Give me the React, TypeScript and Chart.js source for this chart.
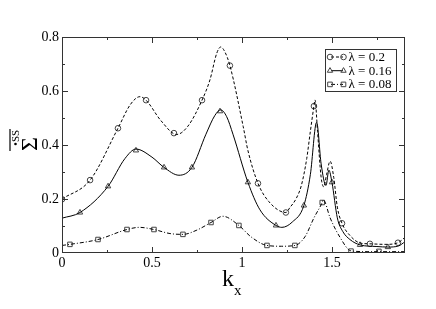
import React, { useEffect, useRef } from "react";
import { Chart, registerables } from "chart.js";

Chart.register(...registerables);

// ---- data ----
const xTickValues = [0, 0.5, 1, 1.5];
const yTickValues = [0, 0.2, 0.4, 0.6, 0.8];
const legendLabels = ["λ = 0.2", "λ = 0.16", "λ = 0.08"];

// λ = 0.2 curve
const kxA = [0, 0.156, 0.311, 0.38, 0.433, 0.467, 0.55, 0.637, 0.7, 0.778, 0.822, 0.86, 0.882, 0.905, 0.933, 1.007, 1.033, 1.089, 1.15, 1.244, 1.267, 1.3, 1.33, 1.36, 1.38, 1.4, 1.406, 1.42, 1.44, 1.455, 1.47, 1.49, 1.51, 1.53, 1.556, 1.6, 1.656, 1.711, 1.8, 1.867, 1.906];
const yA = [0.2, 0.27, 0.462, 0.55, 0.579, 0.566, 0.49, 0.439, 0.47, 0.566, 0.641, 0.74, 0.763, 0.745, 0.694, 0.468, 0.38, 0.258, 0.19, 0.15, 0.169, 0.2, 0.25, 0.35, 0.45, 0.544, 0.567, 0.45, 0.28, 0.245, 0.29, 0.34, 0.28, 0.17, 0.11, 0.065, 0.037, 0.034, 0.032, 0.038, 0.058];
const kxAm = [0, 0.156, 0.311, 0.467, 0.622, 0.778, 0.933, 1.089, 1.244, 1.4, 1.556, 1.711, 1.867];
const yAm = [0.199, 0.27, 0.462, 0.566, 0.444, 0.566, 0.694, 0.258, 0.15, 0.544, 0.11, 0.034, 0.038];

// λ = 0.16 curve
const kxB = [0, 0.1, 0.256, 0.35, 0.411, 0.5, 0.567, 0.65, 0.722, 0.8, 0.85, 0.882, 0.915, 0.95, 1.033, 1.1, 1.189, 1.222, 1.28, 1.344, 1.38, 1.415, 1.44, 1.467, 1.483, 1.5, 1.53, 1.56, 1.6, 1.656, 1.75, 1.811, 1.87, 1.906];
const yB = [0.129, 0.15, 0.247, 0.35, 0.385, 0.355, 0.317, 0.288, 0.317, 0.44, 0.51, 0.53, 0.505, 0.44, 0.262, 0.16, 0.102, 0.095, 0.115, 0.176, 0.29, 0.484, 0.33, 0.25, 0.307, 0.262, 0.13, 0.08, 0.05, 0.03, 0.024, 0.022, 0.026, 0.042];
const kxBm = [0.1, 0.256, 0.411, 0.567, 0.722, 0.878, 1.033, 1.189, 1.344, 1.5, 1.656, 1.811];
const yBm = [0.15, 0.247, 0.38, 0.317, 0.317, 0.525, 0.262, 0.102, 0.176, 0.262, 0.03, 0.022];

// λ = 0.08 curve
const kxC = [0, 0.044, 0.2, 0.361, 0.43, 0.511, 0.6, 0.672, 0.75, 0.828, 0.894, 0.983, 1.05, 1.139, 1.22, 1.294, 1.35, 1.4, 1.446, 1.452, 1.49, 1.544, 1.606, 1.7, 1.761, 1.906];
const yC = [0.028, 0.032, 0.05, 0.087, 0.095, 0.087, 0.072, 0.069, 0.085, 0.113, 0.136, 0.102, 0.06, 0.028, 0.025, 0.028, 0.06, 0.13, 0.187, 0.197, 0.13, 0.059, 0.008, 0.005, 0.005, 0.005];
const kxCm = [0.044, 0.2, 0.361, 0.511, 0.672, 0.828, 0.983, 1.139, 1.294, 1.446, 1.606, 1.761];
const yCm = [0.032, 0.05, 0.087, 0.087, 0.069, 0.113, 0.102, 0.028, 0.028, 0.187, 0.007, 0.006];

const SERIF = "'Liberation Serif', 'DejaVu Serif', serif";

const zip = (xs: number[], ys: number[]) => xs.map((x, i) => ({ x, y: ys[i] }));

function drawMarker(ctx: CanvasRenderingContext2D, style: string, x: number, y: number) {
  ctx.beginPath();
  if (style === "circle") {
    ctx.arc(x, y, 2.8, 0, Math.PI * 2);
  } else if (style === "triangle") {
    const r = 3.1;
    ctx.moveTo(x, y - r);
    ctx.lineTo(x + r * 0.866, y + r * 0.5);
    ctx.lineTo(x - r * 0.866, y + r * 0.5);
    ctx.closePath();
  } else {
    ctx.rect(x - 2.3, y - 2.3, 4.6, 4.6);
  }
  ctx.stroke();
}

const decorPlugin = {
  id: "decor",
  afterDraw(chart: any) {
    const ctx: CanvasRenderingContext2D = chart.ctx;
    const { left, right, top, bottom } = chart.chartArea;
    const xs = chart.scales.x;
    const ys = chart.scales.y;
    ctx.save();
    // frame
    ctx.strokeStyle = "#333";
    ctx.lineWidth = 1;
    ctx.setLineDash([]);
    ctx.strokeRect(left + 0.5, top + 0.5, right - left - 1, bottom - top - 1);
    // ticks
    ctx.beginPath();
    for (let i = 0; i * 0.25 <= xs.max + 1e-9; i++) {
      const v = i * 0.25;
      const p = Math.round(xs.getPixelForValue(v)) + 0.5;
      const len = i % 2 === 0 ? 6 : 3;
      if (v > 0 && p < right - 1) {
        ctx.moveTo(p, bottom);
        ctx.lineTo(p, bottom - len);
        ctx.moveTo(p, top);
        ctx.lineTo(p, top + len);
      }
    }
    for (let i = 1; i < 8; i++) {
      const v = i * 0.1;
      const p = Math.round(ys.getPixelForValue(v)) + 0.5;
      const len = i % 2 === 0 ? 6 : 3;
      ctx.moveTo(left, p);
      ctx.lineTo(left + len, p);
      ctx.moveTo(right, p);
      ctx.lineTo(right - len, p);
    }
    ctx.stroke();

    // legend
    const bx = 325, by = 49, bw = 71, bh = 42;
    ctx.fillStyle = "#fff";
    ctx.fillRect(bx, by, bw, bh);
    ctx.strokeStyle = "#333";
    ctx.strokeRect(bx + 0.5, by + 0.5, bw, bh);
    const styles = ["circle", "triangle", "rect"];
    const dashes = [[3, 2], [], [4, 2, 1, 2]];
    ctx.font = `13px ${SERIF}`;
    ctx.textBaseline = "middle";
    ctx.textAlign = "left";
    legendLabels.forEach((lab, i) => {
      const cy = 57 + i * 13.7;
      ctx.strokeStyle = "#000";
      ctx.setLineDash(dashes[i]);
      ctx.beginPath();
      ctx.moveTo(331, cy);
      ctx.lineTo(343, cy);
      ctx.stroke();
      ctx.setLineDash([]);
      ctx.strokeStyle = "#444";
      drawMarker(ctx, styles[i], 330, cy);
      drawMarker(ctx, styles[i], 343.5, cy);
      ctx.fillStyle = "#000";
      ctx.fillText(lab, 348.5, cy + 0.5);
    });

    // x axis title
    ctx.fillStyle = "#000";
    ctx.textBaseline = "alphabetic";
    ctx.font = `24px ${SERIF}`;
    ctx.fillText("k", 222, 286);
    ctx.font = `15px ${SERIF}`;
    ctx.fillText("x", 234, 295);

    // y axis title (rotated)
    ctx.save();
    ctx.translate(37, 151);
    ctx.rotate(-Math.PI / 2);
    ctx.font = `24px ${SERIF}`;
    ctx.fillText("Σ", 0, 0);
    ctx.font = `11px ${SERIF}`;
    ctx.fillText("SS", 9, -18);
    ctx.beginPath();
    ctx.arc(7, -21.5, 1.3, 0, Math.PI * 2);
    ctx.fill();
    ctx.strokeStyle = "#000";
    ctx.lineWidth = 1.2;
    ctx.beginPath();
    ctx.moveTo(0, -27);
    ctx.lineTo(22, -27);
    ctx.stroke();
    ctx.restore();

    ctx.restore();
  },
};

export default function App() {
  const ref = useRef<HTMLCanvasElement | null>(null);
  useEffect(() => {
    document.body.style.margin = "0";
    if (!ref.current) return;
    const lineBase = {
      borderColor: "#000",
      borderWidth: 1,
      pointRadius: 0,
      fill: false,
      cubicInterpolationMode: "monotone" as const,
    };
    const markBase = {
      showLine: false,
      borderColor: "#444",
      backgroundColor: "rgba(0,0,0,0)",
      borderWidth: 1,
      pointHoverRadius: 0,
    };
    const chart = new Chart(ref.current, {
      type: "line",
      data: {
        datasets: [
          { ...lineBase, data: zip(kxA, yA), borderDash: [3, 2] },
          { ...lineBase, data: zip(kxB, yB) },
          { ...lineBase, data: zip(kxC, yC), borderDash: [4, 2, 1, 2] },
          { ...markBase, data: zip(kxAm, yAm), pointStyle: "circle", pointRadius: 2.8 },
          { ...markBase, data: zip(kxBm, yBm), pointStyle: "triangle", pointRadius: 3.1 },
          { ...markBase, data: zip(kxCm, yCm), pointStyle: "rect", pointRadius: 3.2 },
        ] as any,
      },
      options: {
        animation: false,
        responsive: false,
        events: [],
        layout: { padding: { left: 0, right: 31, top: 37, bottom: 0 } },
        plugins: { legend: { display: false }, tooltip: { enabled: false } },
        scales: {
          x: {
            type: "linear",
            min: 0,
            max: 1.906,
            grid: { display: false, drawTicks: false },
            border: { display: false },
            afterBuildTicks: (s: any) => {
              s.ticks = xTickValues.map((v) => ({ value: v }));
            },
            afterFit: (s: any) => {
              s.height = 56;
            },
            ticks: {
              padding: 2,
              maxRotation: 0,
              color: "#000",
              font: { family: SERIF, size: 14 },
              callback: (v: any) => String(Number(Number(v).toFixed(2))),
            },
          },
          y: {
            type: "linear",
            min: 0,
            max: 0.8,
            grid: { display: false, drawTicks: false },
            border: { display: false },
            afterBuildTicks: (s: any) => {
              s.ticks = yTickValues.map((v) => ({ value: v }));
            },
            afterFit: (s: any) => {
              s.width = 62;
            },
            ticks: {
              padding: 3,
              color: "#000",
              font: { family: SERIF, size: 14 },
              callback: (v: any) => String(Number(Number(v).toFixed(2))),
            },
          },
        },
      },
      plugins: [decorPlugin],
    });
    return () => chart.destroy();
  }, []);
  return (
    <div style={{ width: 436, height: 309 }}>
      <canvas ref={ref} width={436} height={309} style={{ display: "block" }} />
    </div>
  );
}
